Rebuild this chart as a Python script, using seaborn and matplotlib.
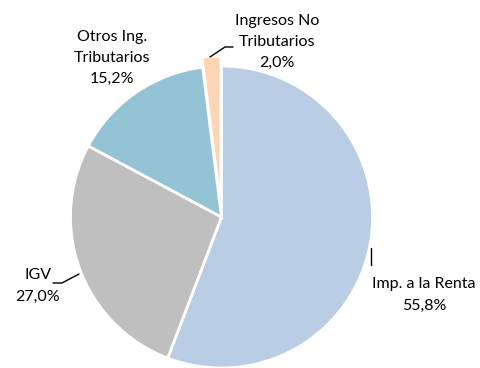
import matplotlib
matplotlib.use("Agg")
import matplotlib.pyplot as plt
import seaborn as sns

sns.set_theme(style="white")
plt.rcParams['font.family'] = ['Lato', 'DejaVu Sans']

categories = ["Imp. a la Renta", "IGV", "Otros Ing.\nTributarios", "Ingresos No\nTributarios"]
shares = [55.8, 27.0, 15.2, 2.0]
colors = ["#b9cde5", "#bfbfbf", "#93c3d5", "#fcd5b5"]
explode = [0, 0, 0, 0.065]

W, H = 480, 368
cx, cy, R = 221.5, 217, 151

fig = plt.figure(figsize=(W / 100, H / 100), dpi=100)
ax = fig.add_axes([0, 0, 1, 1])
ax.pie(shares, colors=colors, startangle=90, counterclock=False, explode=explode,
       radius=1, wedgeprops=dict(edgecolor="white", linewidth=2))
ax.set_xlim(-cx / R, (W - cx) / R)
ax.set_ylim(-(H - cy) / R, cy / R)
ax.set_aspect("equal")
ax.axis("off")


def px(x, y):
    return (x - cx) / R, (cy - y) / R


def fmt(v):
    return f"{v:.1f}%".replace(".", ",")


fs = 11.5
label_pos = [(424, 295), (38, 286), (112, 58), (277, 42)]
for name, v, (lx, ly) in zip(categories, shares, label_pos):
    ax.text(*px(lx, ly), f"{name}\n{fmt(v)}", ha="center", va="center",
            fontsize=fs, color="#000000", linespacing=1.65)

# leader lines
line_kw = dict(color="black", linewidth=1)
ax.plot(*zip(px(371, 248), px(371, 265)), **line_kw)
ax.plot(*zip(px(53, 283), px(62, 283), px(79, 274)), **line_kw)
ax.plot(*zip(px(210, 57), px(225, 47), px(233, 47)), **line_kw)

fig.savefig("out.png", dpi=100)
